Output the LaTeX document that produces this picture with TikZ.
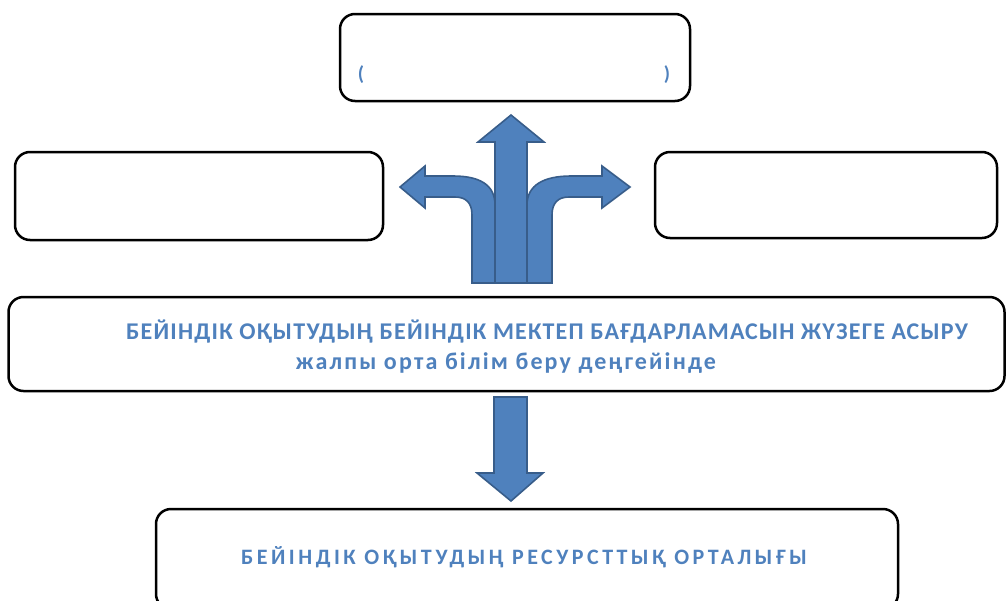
\documentclass[tikz,border=0pt]{standalone}
\usepackage{fontspec}
\setmainfont{Carlito}
\newfontfamily\schoolfont[LetterSpace=5]{Carlito}
\newfontfamily\levelfont[LetterSpace=9]{Carlito}
\newfontfamily\centrefont[LetterSpace=16]{Carlito}
\usetikzlibrary{positioning}
\definecolor{officeblue}{HTML}{4F81BD}
\definecolor{officeline}{HTML}{385D8A}

\begin{document}
\begin{tikzpicture}[x=0.5pt, y=-0.5pt]
			\tikzstyle{box} = [draw, line width=1.25pt, rounded corners=7.5pt, inner sep=0pt]
			\tikzstyle{blockarrow} = [fill=officeblue, draw=officeline, line width=0.8pt, line join=miter]
			\tikzstyle{label} = [text=officeblue, align=center]
			
			\useasboundingbox (0,0) rectangle (1006,600);
			
			\node [box, minimum width=175pt, minimum height=43.5pt] (goal) at (515,57.5) {};
			\node [box, minimum width=184pt, minimum height=44pt] (left) at (199,196) {};
			\node [box, minimum width=171pt, minimum height=43pt] (right) at (826,195) {};
			\node [box, minimum width=498pt, minimum height=47pt] (school) at (506.5,344) {};
			\node [box, minimum width=371pt, minimum height=50pt] (centre) at (527,559) {};
			
			\node [label, font=\bfseries\fontsize{10}{12}\selectfont] (lpar) at (361,75) {(};
			\node [label, font=\bfseries\fontsize{10}{12}\selectfont] (rpar) at (667,75) {)};
			
			\node [label, font=\schoolfont\bfseries\fontsize{12}{15}\selectfont] (schooltext) at (547,332) {БЕЙІНДІК ОҚЫТУДЫҢ БЕЙІНДІК МЕКТЕП БАҒДАРЛАМАСЫН ЖҮЗЕГЕ АСЫРУ};
			\node [label, font=\levelfont\bfseries\fontsize{12}{15}\selectfont] (leveltext) at (506,363) {жалпы орта білім беру деңгейінде};
			\node [label, font=\centrefont\bfseries\fontsize{11}{13}\selectfont] (centretext) at (524,557) {БЕЙІНДІК ОҚЫТУДЫҢ РЕСУРСТТЫҚ ОРТАЛЫҒЫ};
			
			% three-way arrow
			\path [blockarrow] (472,283) -- (472,215) .. controls (472,203) and (466,197) .. (455,197)
				-- (425,197) -- (425,208) -- (400,187) -- (425,166) -- (425,176) -- (453,176)
				.. controls (480,176) and (495,185) .. (495,205) -- (495,283) -- cycle;
			\path [blockarrow] (552,283) -- (552,215) .. controls (552,203) and (558,197) .. (569,197)
				-- (602,197) -- (602,208) -- (630,187) -- (602,166) -- (602,176) -- (571,176)
				.. controls (544,176) and (527,185) .. (527,205) -- (527,283) -- cycle;
			\path [blockarrow] (495,283) -- (495,142) -- (478,142) -- (511,115) -- (544,142)
				-- (527,142) -- (527,283) -- cycle;
			
			% down arrow
			\path [blockarrow] (494,397) -- (494,473) -- (477,473) -- (511,501) -- (543,473)
				-- (527,473) -- (527,397) -- cycle;
\end{tikzpicture}
\end{document}
